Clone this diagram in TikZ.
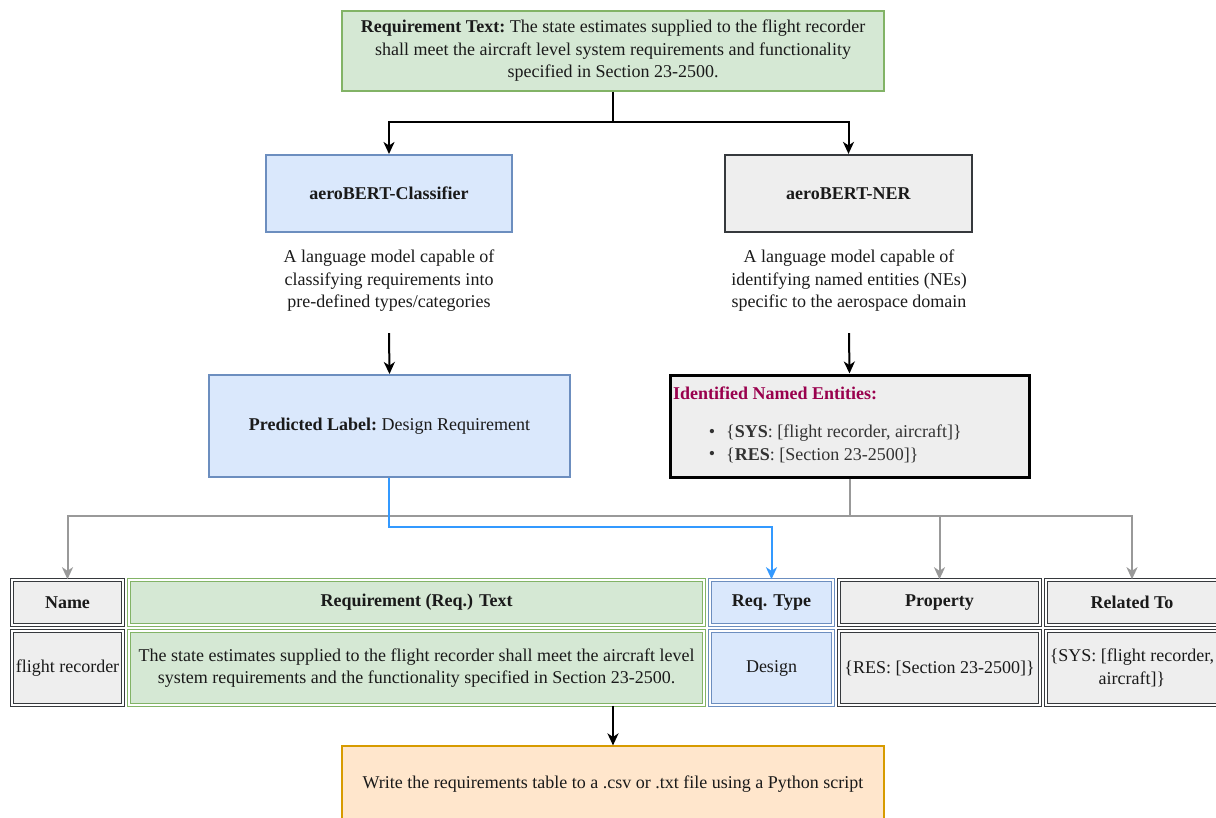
\documentclass[tikz,border=0pt]{standalone}
\usepackage{fontspec}
\setmainfont{Liberation Serif}
\usetikzlibrary{arrows.meta}

\definecolor{greenF}{HTML}{D5E8D4}
\definecolor{greenD}{HTML}{82B366}
\definecolor{blueF}{HTML}{DAE8FC}
\definecolor{blueD}{HTML}{6C8EBF}
\definecolor{grayF}{HTML}{EEEEEE}
\definecolor{grayD}{HTML}{36393D}
\definecolor{orangeF}{HTML}{FFE6CC}
\definecolor{orangeD}{HTML}{D79B00}
\definecolor{connGray}{HTML}{999999}
\definecolor{connBlue}{HTML}{3399FF}
\definecolor{entTitle}{HTML}{99004D}
\definecolor{txt}{HTML}{1A1A1A}
\definecolor{txtsoft}{HTML}{333333}

\tikzset{
  base/.style={inner sep=0pt, align=center, text=txt,
    font=\fontsize{18bp}{22.5bp}\selectfont},
  box/.style={base, draw},
  greenbox/.style={box, fill=greenF, draw=greenD, line width=1.2bp},
  bluebox/.style={box, fill=blueF, draw=blueD, line width=2bp},
  graybox/.style={box, fill=grayF, draw=grayD, line width=2.2bp},
  entbox/.style={box, fill=grayF, draw=black, line width=3bp},
  orangebox/.style={box, fill=orangeF, draw=orangeD, line width=1.2bp},
  cell/.style={base, draw, line width=1.5bp, double=white, double distance=1.2bp},
  greencell/.style={cell, fill=greenF, draw=greenD},
  bluecell/.style={cell, fill=blueF, draw=blueD},
  graycell/.style={cell, fill=grayF, draw=grayD},
  tip/.style={-{Stealth[length=12bp,width=11bp,inset=3.5bp]}},
  blackconn/.style={tip, draw=black, line width=2bp},
  grayconn/.style={tip, draw=connGray, line width=2bp},
  blueconn/.style={tip, draw=connBlue, line width=2bp},
}

\begin{document}
\begin{tikzpicture}[x=1bp,y=-1bp]
\useasboundingbox (0,0) rectangle (1216,818);
\clip (0,0) rectangle (1216,818);

% requirement text
\node[greenbox, minimum width=542bp, minimum height=80bp] (req) at (613,51)
  {\textbf{Requirement Text:}~The state estimates supplied to the flight recorder\\
   shall meet the aircraft level system requirements and functionality\\
   specified in Section 23-2500.};

% the two language models
\node[bluebox, minimum width=246bp, minimum height=77bp] (cls) at (389,193.5)
  {\textbf{aeroBERT-Classifier}};
\node[graybox, minimum width=247bp, minimum height=77bp] (ner) at (848.5,193.5)
  {\textbf{aeroBERT-NER}};

\node[base, minimum height=104bp] (clsdesc) at (389,281)
  {A language model capable of\\ classifying requirements into\\ pre-defined types/categories};
\node[base, minimum height=104bp] (nerdesc) at (849,281)
  {A language model capable of\\ identifying named entities (NEs)\\ specific to the aerospace domain};

% model outputs
\node[bluebox, minimum width=361bp, minimum height=102bp] (pred) at (389.5,426)
  {\textbf{Predicted Label:}~Design Requirement};
\node[entbox, minimum width=359bp, minimum height=102bp] (ent) at (849.5,426) {};
\node[base, anchor=west, text=entTitle] (enttitle) at (673,393)
  {\textbf{Identified Named Entities:}};
\node[base, text=txtsoft] (b1) at (712,433) {•};
\node[base, text=txtsoft] (b2) at (712,455) {•};
\node[base, anchor=west, text=txtsoft] (e1) at (726,433)
  {\{\textbf{SYS}: [flight recorder, aircraft]\}};
\node[base, anchor=west, text=txtsoft] (e2) at (726,455)
  {\{\textbf{RES}: [Section 23-2500]\}};

% requirements table: header row
\node[graycell, minimum width=111bp, minimum height=45bp] (hname) at (67.5,602.5)
  {\textbf{Name}};
\node[greencell, minimum width=575bp, minimum height=45bp] (htext) at (416.5,602.5)
  {\textbf{Requirement (Req.) Text}};
\node[bluecell, minimum width=123bp, minimum height=45bp] (htype) at (771.5,602.5)
  {\textbf{Req. Type}};
\node[graycell, minimum width=201bp, minimum height=45bp] (hprop) at (939.5,602.5)
  {\textbf{Property}};
\node[graycell, minimum width=172bp, minimum height=45bp] (hrel) at (1132,602.5)
  {\textbf{Related To}};

% requirements table: data row
\node[graycell, minimum width=111bp, minimum height=74bp] (dname) at (67.5,668)
  {flight recorder};
\node[greencell, minimum width=575bp, minimum height=74bp] (dtext) at (416.5,668)
  {The state estimates supplied to the flight recorder shall meet the aircraft level\\
   system requirements and the functionality specified in Section 23-2500.};
\node[bluecell, minimum width=123bp, minimum height=74bp] (dtype) at (771.5,668)
  {Design};
\node[graycell, minimum width=201bp, minimum height=74bp] (dprop) at (939.5,668)
  {\{RES: [Section 23-2500]\}};
\node[graycell, minimum width=172bp, minimum height=74bp] (drel) at (1132,668)
  {\{SYS: [flight recorder,\\ aircraft]\}};

% export step
\node[orangebox, minimum width=542bp, minimum height=76bp] (out) at (613,784)
  {Write the requirements table to a .csv or .txt file using a Python script};

% connectors
\coordinate (split) at (613,122);
\draw[blackconn] (req.south) -- (split) -| (cls.north);
\draw[blackconn] (split) -| (ner.north);
\draw[blackconn] (clsdesc.south) -- (pred.north);
\draw[blackconn] (nerdesc.south) -- (ent.north);

\coordinate (fan) at (850,516);
\draw[grayconn] (ent.south -| fan) -- (fan) -| (hname.north);
\draw[grayconn] (fan) -| (hprop.north);
\draw[grayconn] (fan) -| (hrel.north);

\coordinate (bend) at (389,527);
\draw[blueconn] (pred.south -| bend) -- (bend) -| (htype.north);

\draw[blackconn] (dtext.south -| out.north) -- (out.north);
\end{tikzpicture}
\end{document}
